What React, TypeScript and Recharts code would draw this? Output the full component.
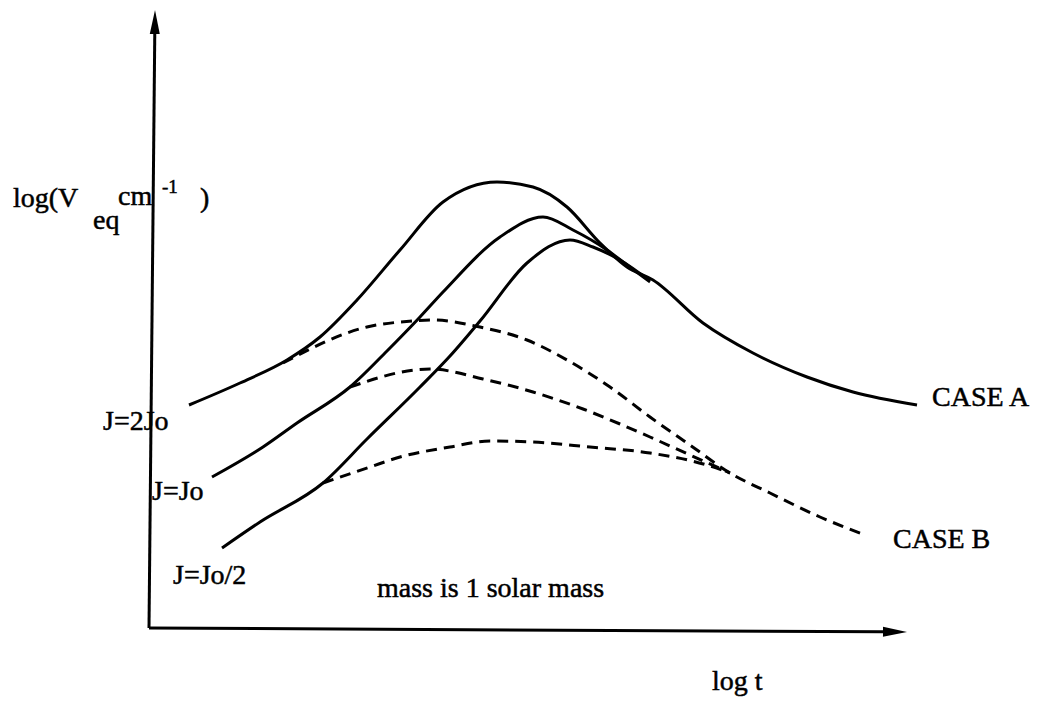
import React from 'react';
import { LineChart, Line, XAxis, YAxis, ReferenceLine, Customized } from 'recharts';

// schematic values (arbitrary log units)
const caseA2Jo = [
  [41, 227], [92, 249], [139, 272], [172, 295], [209, 332], [252, 382], [295, 430], [349, 450],
  [385, 445], [419, 425], [452, 389], [479, 365], [505, 352], [555, 309], [605, 279], [659, 255],
  [705, 240], [769, 227],
];
const caseAJo = [
  [64, 155], [115, 185], [149, 209], [202, 245], [239, 281], [272, 315], [295, 340],
  [352, 395], [395, 415], [425, 402], [459, 382], [479, 367], [502, 350],
];
const caseAJoHalf = [
  [74, 84], [112, 110], [175, 149], [219, 193], [272, 245], [302, 276], [332, 311],
  [379, 369], [422, 392], [445, 385], [472, 372], [502, 351],
];
const caseB2Jo = [
  [135, 269], [219, 305], [265, 311], [285, 312], [332, 305], [379, 292], [419, 272], [462, 245],
  [502, 215], [542, 187], [582, 159], [622, 139], [672, 115], [717, 97],
];
const caseBJo = [
  [202, 245], [282, 263], [335, 253], [385, 240], [435, 223], [472, 208], [502, 195], [542, 177],
  [582, 159],
];
const caseBJoHalf = [
  [175, 149], [222, 165], [252, 175], [302, 185], [342, 191], [385, 190], [442, 185], [502, 179],
  [562, 166], [582, 159],
];

const toRows = (pts: number[][]) => pts.map(([t, v]) => ({ t, v }));

const FONT = '"Liberation Serif", "Times New Roman", serif';

const Arrow = (props: any) => {
  const { x1, y1, x2, y2 } = props;
  const ang = Math.atan2(y2 - y1, x2 - x1);
  const len = 24;
  const half = 5;
  const bx = x2 - len * Math.cos(ang);
  const by = y2 - len * Math.sin(ang);
  const ox = -Math.sin(ang) * half;
  const oy = Math.cos(ang) * half;
  return (
    <g>
      <line x1={x1} y1={y1} x2={bx} y2={by} stroke="#000" strokeWidth={3} />
      <polygon points={`${x2},${y2} ${bx + ox},${by + oy} ${bx - ox},${by - oy}`} fill="#000" />
    </g>
  );
};

const Labels = () => (
  <g fontFamily={FONT} fill="#000" stroke="#000" strokeWidth={0.5} fontSize={28}>
    <text x={13} y={207}>log(V</text>
    <text x={93} y={229}>eq</text>
    <text x={118} y={205}>cm</text>
    <text x={162} y={193} fontSize={19}>-1</text>
    <text x={200} y={207}>)</text>
    <text x={103} y={430}>J=2Jo</text>
    <text x={152} y={500}>J=Jo</text>
    <text x={173} y={584}>J=Jo/2</text>
    <text x={932} y={406}>CASE A</text>
    <text x={893} y={548}>CASE B</text>
    <text x={377} y={597}>mass is 1 solar mass</text>
    <text x={712} y={690}>log t</text>
  </g>
);

const solid = { stroke: '#000', strokeWidth: 3, dot: false, isAnimationActive: false, type: 'monotone' as const };
const dashed = { ...solid, strokeDasharray: '11 7' };

export default function App() {
  return (
    <div style={{ position: 'absolute', left: 0, top: 0, background: '#fff' }}>
      <LineChart width={1041} height={702} margin={{ top: 10, left: 148, right: 93, bottom: 70 }}>
        <XAxis type="number" dataKey="t" domain={[0, 800]} hide />
        <YAxis type="number" dataKey="v" domain={[0, 622]} hide />
        <ReferenceLine segment={[{ x: 1, y: 4 }, { x: 7, y: 622 }]} shape={Arrow} />
        <ReferenceLine segment={[{ x: 1, y: 4 }, { x: 759, y: 0 }]} shape={Arrow} />
        <Line data={toRows(caseA2Jo)} dataKey="v" {...solid} />
        <Line data={toRows(caseAJo)} dataKey="v" {...solid} />
        <Line data={toRows(caseAJoHalf)} dataKey="v" {...solid} />
        <Line data={toRows(caseB2Jo)} dataKey="v" {...dashed} />
        <Line data={toRows(caseBJo)} dataKey="v" {...dashed} />
        <Line data={toRows(caseBJoHalf)} dataKey="v" {...dashed} />
        <Customized component={Labels} />
      </LineChart>
    </div>
  );
}
